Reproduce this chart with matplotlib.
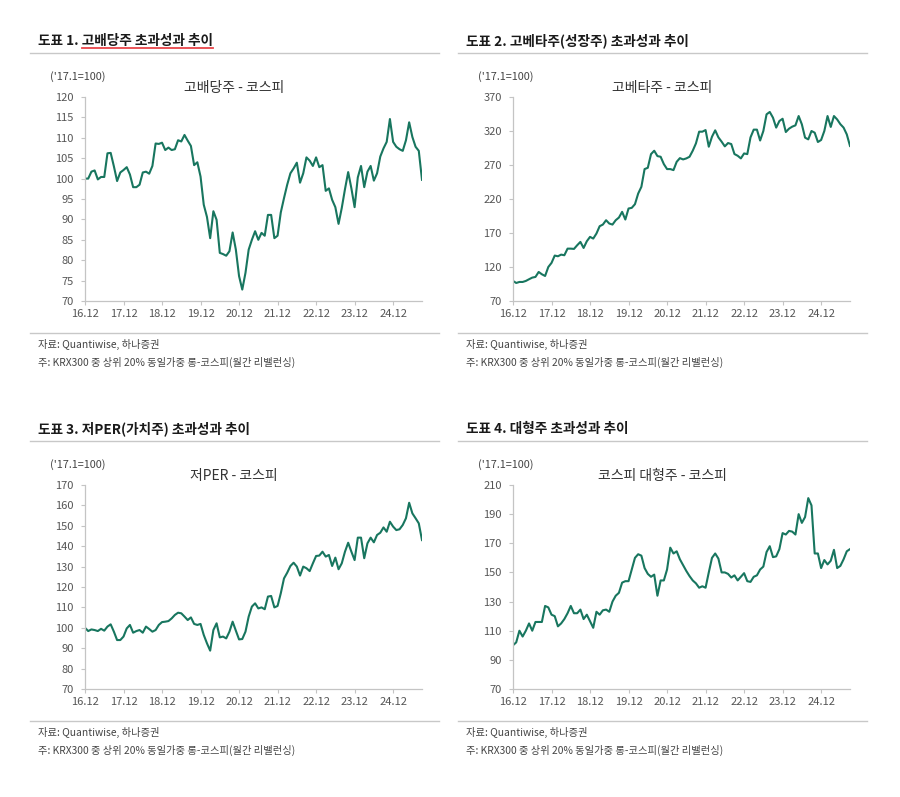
import matplotlib
matplotlib.use("Agg")
import matplotlib.pyplot as plt
from matplotlib.lines import Line2D

plt.rcParams["font.family"] = ["Noto Sans CJK KR", "DejaVu Sans"]
plt.rcParams["axes.unicode_minus"] = False

W, H = 900, 797
LINE_COLOR = "#18765f"
GRID_GRAY = "#c8c8c8"

# x축: 월간 데이터, 매년 12월 눈금
tick_pos = [0, 12, 24, 36, 48, 60, 72, 84, 96]
tick_labels = ["16.12", "17.12", "18.12", "19.12", "20.12", "21.12", "22.12", "23.12", "24.12"]

# 고배당주 - 코스피
high_div = [
    100, 100, 101.7, 102, 99.8, 100.4, 100.4, 106.2, 106.3, 103, 99.4, 101.5,
    102.1, 102.8, 101, 97.9, 97.9, 98.5, 101.5, 101.7, 101.2, 103.1, 108.6, 108.5,
    108.8, 107, 107.6, 107, 107.2, 109.4, 109.1, 110.7, 109.3, 108, 103.3, 104,
    100.5, 93.6, 90.6, 85.4, 92, 89.9, 81.8, 81.5, 81.1, 82.2, 86.8, 82.6,
    76.1, 72.8, 76.9, 82.6, 85, 87.1, 85, 86.7, 86, 91.1, 91.1, 85.4,
    86, 91.7, 95.2, 98.5, 101.3, 102.5, 103.9, 99, 101.3, 105.2, 104.4, 103.1,
    105.2, 102.8, 103.3, 97, 97.6, 94.8, 93, 88.9, 92.8, 97.4, 101.6, 97.6,
    93, 100.3, 103.1, 97.9, 101.7, 103.1, 99.5, 101.3, 105.4, 107.4, 109, 114.6,
    109, 107.8, 107.2, 106.8, 109.4, 113.8, 110.2, 107.8, 106.8, 99.7,
]

# 고베타주 - 코스피
high_beta = [
    99.5, 96.5, 98, 98, 99.5, 102, 104.4, 105.4, 112.7, 109.3, 106.8, 120,
    126, 136.8, 135.8, 138.2, 137.3, 147, 147, 146.6, 152, 156.9, 148, 157.9,
    164.3, 161.8, 169.2, 180, 182.4, 188.8, 183.9, 182.4, 188.8, 192.7, 201.1, 189.8,
    206, 207, 212.4, 228, 237.9, 264, 265.9, 286, 291, 283.1, 282.1, 271.3,
    264, 264, 262.5, 274.7, 280.1, 278.2, 279.7, 282.1, 291, 301.8, 319, 319,
    321.4, 296.9, 311.6, 321, 310.6, 304.3, 297.4, 302.3, 300.8, 286.1, 283.6, 279.7,
    287, 286, 310.6, 322, 322, 306, 320, 344.5, 348, 339.6, 325, 334.7,
    338, 318.5, 323.4, 326.4, 328.3, 342, 329.8, 310.2, 307.7, 320, 317.5, 303.8,
    306.8, 320, 342, 326, 342, 337, 330, 325, 315, 298,
]

# 저PER - 코스피
low_per = [
    100, 98.4, 99.2, 98.9, 98.4, 99.5, 98.6, 100.6, 101.7, 98.1, 94, 94,
    95.7, 99.7, 101.4, 97.6, 98.4, 98.9, 97.6, 100.6, 99.4, 98.1, 98.9, 101.4,
    102.8, 103, 103.3, 104.6, 106.3, 107.4, 107.1, 105.5, 103.8, 105.1, 101.9, 101.4,
    101.9, 96.5, 92.4, 88.8, 98.9, 102.2, 95.3, 95.7, 94.8, 98.1, 103, 98.6,
    94.3, 94.5, 98.1, 105.5, 110.4, 112, 109.5, 110, 109.1, 115.3, 115.6, 110,
    110.7, 116.9, 124.2, 127, 130.3, 131.9, 130, 125.6, 130, 129.2, 127.8, 131.6,
    135.2, 135.4, 137.3, 134.9, 135.7, 130.3, 134.4, 128.7, 131.6, 137.3, 141.7, 137.3,
    133.2, 144.2, 144.2, 134.1, 141.4, 144.2, 141.9, 145.5, 146.6, 149.2, 147.1, 152,
    149.6, 147.9, 148.3, 150.4, 153.7, 161.3, 156.1, 153.7, 151.2, 143,
]

# 코스피 대형주 - 코스피
large_cap = [
    100, 102, 110, 106, 110, 115, 110, 116, 116, 116, 127, 126,
    121, 120, 113, 115, 118, 122, 127, 122, 122, 124.5, 118, 121,
    116.5, 112, 123, 121, 124, 124.5, 123, 130, 134, 136, 143, 144,
    144, 152, 160, 162.5, 161.5, 153, 149, 147, 148.5, 134, 144.5, 144.5,
    152, 167, 163, 164.5, 159, 155, 151, 147.5, 144.5, 142.5, 139.5, 140.5,
    139.5, 150, 160, 163, 159.5, 150, 150, 149, 146.5, 148, 144.5, 147,
    149.5, 144, 143.5, 147, 148, 152, 154, 164, 168, 160.5, 161, 166,
    177, 176, 178.5, 178, 176, 190, 184, 188, 201, 196, 163, 163,
    153, 158.5, 155.5, 158, 165.5, 153, 154.5, 159, 164.5, 166,
]

fig = plt.figure(figsize=(W / 100, H / 100), dpi=100)


def fx(x):
    return x / W


def fy(y):
    return 1 - y / H


def hline(x1, x2, y, color=GRID_GRAY, lw=1.0):
    fig.add_artist(Line2D([fx(x1), fx(x2)], [fy(y), fy(y)],
                          transform=fig.transFigure, color=color, linewidth=lw))


def draw_panel(dx, dy, title, underline, subtitle, values, yticks):
    t = fig.text(fx(38 + dx), fy(41 + dy), title, fontsize=9.8, fontweight="bold",
                 color="#1a1a1a", ha="left", va="center")
    hline(30 + dx, 439 + dx, 53 + dy)

    if underline:
        fig.canvas.draw()
        renderer = fig.canvas.get_renderer()
        full = t.get_window_extent(renderer)
        tmp = fig.text(0, 0, underline, fontsize=9.8, fontweight="bold")
        part_w = tmp.get_window_extent(renderer).width
        tmp.remove()
        y_line = fy(48 + dy)
        fig.add_artist(Line2D([(full.x1 - part_w) / W, full.x1 / W], [y_line, y_line],
                              transform=fig.transFigure, color="#e8454a", linewidth=1.3))

    fig.text(fx(78 + dx), fy(77 + dy), "('17.1=100)", fontsize=7.8, color="#444444",
             ha="center", va="center")
    fig.text(fx(234 + dx), fy(88 + dy), subtitle, fontsize=10, color="#333333",
             ha="center", va="center")

    left, right, top, bottom = 85 + dx, 422 + dx, 97 + dy, 301 + dy
    ax = fig.add_axes([fx(left), fy(bottom), (right - left) / W, (bottom - top) / H])
    ax.plot(range(len(values)), values, color=LINE_COLOR, linewidth=1.5)
    ax.set_xlim(0, len(values) - 1)
    ax.set_ylim(yticks[0], yticks[-1])
    ax.set_yticks(yticks)
    ax.set_xticks(tick_pos)
    ax.set_xticklabels(tick_labels)
    for side in ["top", "right"]:
        ax.spines[side].set_visible(False)
    for side in ["left", "bottom"]:
        ax.spines[side].set_color("#c4c4c4")
        ax.spines[side].set_linewidth(0.9)
    ax.tick_params(axis="both", direction="out", length=3, width=0.8, color="#c4c4c4",
                   labelsize=8, labelcolor="#555555")
    ax.tick_params(axis="y", pad=5)
    ax.tick_params(axis="x", pad=3)

    hline(30 + dx, 439 + dx, 333 + dy)
    fig.text(fx(38 + dx), fy(344 + dy), "자료: Quantiwise, 하나증권", fontsize=7.4,
             color="#444444", ha="left", va="center")
    fig.text(fx(38 + dx), fy(362 + dy), "주: KRX300 중 상위 20% 동일가중 롱-코스피(월간 리밸런싱)",
             fontsize=7.4, color="#444444", ha="left", va="center")


draw_panel(0, 0, "도표 1. 고배당주 초과성과 추이", "고배당주 초과성과 추이",
           "고배당주 - 코스피", high_div, list(range(70, 121, 5)))
draw_panel(428, 0, "도표 2. 고베타주(성장주) 초과성과 추이", None,
           "고베타주 - 코스피", high_beta, list(range(70, 371, 50)))
draw_panel(0, 388, "도표 3. 저PER(가치주) 초과성과 추이", None,
           "저PER - 코스피", low_per, list(range(70, 171, 10)))
draw_panel(428, 388, "도표 4. 대형주 초과성과 추이", None,
           "코스피 대형주 - 코스피", large_cap, list(range(70, 211, 20)))

fig.savefig("out.png", dpi=100)
plt.close(fig)
